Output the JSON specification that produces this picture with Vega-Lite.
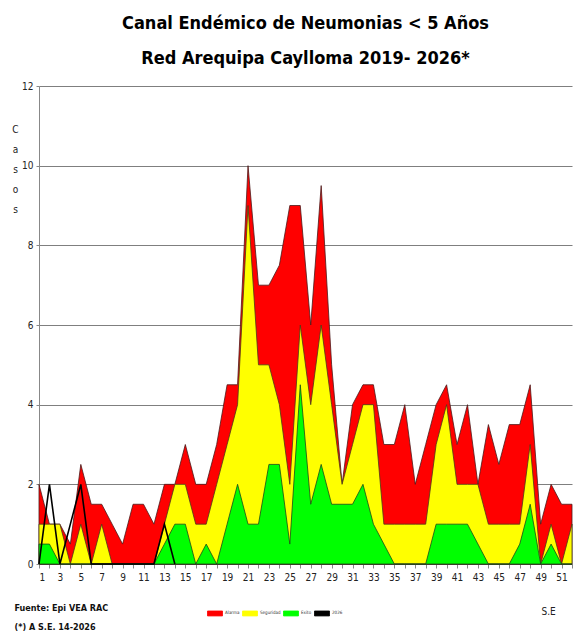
{
  "$schema": "https://vega.github.io/schema/vega-lite/v6.json",
  "width": 533,
  "height": 478,
  "autosize": {"type": "none"},
  "padding": {"left": 39, "top": 86, "right": 1, "bottom": 71},
  "background": "white",
  "config": {
    "font": "DejaVu Sans Condensed, Liberation Sans, sans-serif",
    "view": {"stroke": null}
  },
  "title": {
    "text": ["Canal Endémico de Neumonias < 5 Años", "Red Arequipa Caylloma 2019- 2026*"],
    "font": "DejaVu Sans Condensed, Liberation Sans, sans-serif",
    "fontSize": 18,
    "fontWeight": "bold",
    "color": "#000000",
    "lineHeight": 35,
    "anchor": "middle",
    "offset": 13
  },
  "data": {
    "values": [
      {"w": 1, "Alarma": 2, "Seguridad": 1, "Exito": 0.5, "Casos2026": 0},
      {"w": 2, "Alarma": 1, "Seguridad": 1, "Exito": 0.5, "Casos2026": 2},
      {"w": 3, "Alarma": 1, "Seguridad": 1, "Exito": 0, "Casos2026": 0},
      {"w": 4, "Alarma": 0.5, "Seguridad": 0, "Exito": 0, "Casos2026": 1},
      {"w": 5, "Alarma": 2.5, "Seguridad": 1, "Exito": 0, "Casos2026": 2},
      {"w": 6, "Alarma": 1.5, "Seguridad": 0, "Exito": 0, "Casos2026": 0},
      {"w": 7, "Alarma": 1.5, "Seguridad": 1, "Exito": 0, "Casos2026": 0},
      {"w": 8, "Alarma": 1, "Seguridad": 0, "Exito": 0, "Casos2026": 0},
      {"w": 9, "Alarma": 0.5, "Seguridad": 0, "Exito": 0, "Casos2026": 0},
      {"w": 10, "Alarma": 1.5, "Seguridad": 0, "Exito": 0, "Casos2026": 0},
      {"w": 11, "Alarma": 1.5, "Seguridad": 0, "Exito": 0, "Casos2026": 0},
      {"w": 12, "Alarma": 1, "Seguridad": 0, "Exito": 0, "Casos2026": 0},
      {"w": 13, "Alarma": 2, "Seguridad": 1, "Exito": 0.5, "Casos2026": 1},
      {"w": 14, "Alarma": 2, "Seguridad": 2, "Exito": 1, "Casos2026": 0},
      {"w": 15, "Alarma": 3, "Seguridad": 2, "Exito": 1},
      {"w": 16, "Alarma": 2, "Seguridad": 1, "Exito": 0},
      {"w": 17, "Alarma": 2, "Seguridad": 1, "Exito": 0.5},
      {"w": 18, "Alarma": 3, "Seguridad": 2, "Exito": 0},
      {"w": 19, "Alarma": 4.5, "Seguridad": 3, "Exito": 1},
      {"w": 20, "Alarma": 4.5, "Seguridad": 4, "Exito": 2},
      {"w": 21, "Alarma": 10, "Seguridad": 9, "Exito": 1},
      {"w": 22, "Alarma": 7, "Seguridad": 5, "Exito": 1},
      {"w": 23, "Alarma": 7, "Seguridad": 5, "Exito": 2.5},
      {"w": 24, "Alarma": 7.5, "Seguridad": 4, "Exito": 2.5},
      {"w": 25, "Alarma": 9, "Seguridad": 2, "Exito": 0.5},
      {"w": 26, "Alarma": 9, "Seguridad": 6, "Exito": 4.5},
      {"w": 27, "Alarma": 6, "Seguridad": 4, "Exito": 1.5},
      {"w": 28, "Alarma": 9.5, "Seguridad": 6, "Exito": 2.5},
      {"w": 29, "Alarma": 5, "Seguridad": 4, "Exito": 1.5},
      {"w": 30, "Alarma": 2, "Seguridad": 2, "Exito": 1.5},
      {"w": 31, "Alarma": 4, "Seguridad": 3, "Exito": 1.5},
      {"w": 32, "Alarma": 4.5, "Seguridad": 4, "Exito": 2},
      {"w": 33, "Alarma": 4.5, "Seguridad": 4, "Exito": 1},
      {"w": 34, "Alarma": 3, "Seguridad": 1, "Exito": 0.5},
      {"w": 35, "Alarma": 3, "Seguridad": 1, "Exito": 0},
      {"w": 36, "Alarma": 4, "Seguridad": 1, "Exito": 0},
      {"w": 37, "Alarma": 2, "Seguridad": 1, "Exito": 0},
      {"w": 38, "Alarma": 3, "Seguridad": 1, "Exito": 0},
      {"w": 39, "Alarma": 4, "Seguridad": 3, "Exito": 1},
      {"w": 40, "Alarma": 4.5, "Seguridad": 4, "Exito": 1},
      {"w": 41, "Alarma": 3, "Seguridad": 2, "Exito": 1},
      {"w": 42, "Alarma": 4, "Seguridad": 2, "Exito": 1},
      {"w": 43, "Alarma": 2, "Seguridad": 2, "Exito": 0.5},
      {"w": 44, "Alarma": 3.5, "Seguridad": 1, "Exito": 0},
      {"w": 45, "Alarma": 2.5, "Seguridad": 1, "Exito": 0},
      {"w": 46, "Alarma": 3.5, "Seguridad": 1, "Exito": 0},
      {"w": 47, "Alarma": 3.5, "Seguridad": 1, "Exito": 0.5},
      {"w": 48, "Alarma": 4.5, "Seguridad": 3, "Exito": 1.5},
      {"w": 49, "Alarma": 1, "Seguridad": 0, "Exito": 0},
      {"w": 50, "Alarma": 2, "Seguridad": 1, "Exito": 0.5},
      {"w": 51, "Alarma": 1.5, "Seguridad": 0, "Exito": 0},
      {"w": 52, "Alarma": 1.5, "Seguridad": 1, "Exito": 0}
    ]
  },
  "encoding": {
    "y": {
      "type": "quantitative",
      "scale": {"domain": [0, 12], "nice": false},
      "axis": {
        "values": [0, 2, 4, 6, 8, 10, 12],
        "grid": true,
        "gridColor": "#7f7f7f",
        "gridWidth": 1,
        "domainColor": "#888888",
        "tickColor": "#888888",
        "tickSize": 3,
        "labelFont": "DejaVu Sans Condensed, Liberation Sans, sans-serif",
        "labelFontSize": 10,
        "labelColor": "#222222",
        "labelPadding": 3,
        "title": ["C", "a", "s", "o", "s"],
        "titleAngle": 0,
        "titleFont": "DejaVu Sans Condensed, Liberation Sans, sans-serif",
        "titleFontSize": 10,
        "titleFontWeight": "normal",
        "titleColor": "#222222",
        "titleLineHeight": 20,
        "titleBaseline": "top",
        "titleAlign": "center",
        "titleX": -24,
        "titleY": 38
      }
    },
    "color": {
      "type": "nominal",
      "scale": {
        "domain": ["Alarma", "Seguridad", "Exito", "2026"],
        "range": ["#ff0000", "#ffff00", "#00ff00", "#000000"]
      },
      "legend": {
        "orient": "none",
        "direction": "horizontal",
        "columns": 4,
        "legendX": 168,
        "legendY": 519,
        "title": null,
        "symbolType": "M-1,-0.33H1V0.33H-1Z",
        "symbolSize": 225,
        "symbolStrokeColor": "#333333",
        "symbolStrokeWidth": 0.8,
        "symbolOpacity": 1,
        "labelFontSize": 4.5,
        "labelColor": "#333333",
        "labelOffset": 2,
        "columnPadding": 0
      }
    }
  },
  "layer": [
    {
      "encoding": {
        "x": {
          "field": "w",
          "type": "quantitative",
          "scale": {"domain": [1, 52], "nice": false, "zero": false},
          "axis": {
            "values": [1,2,3,4,5,6,7,8,9,10,11,12,13,14,15,16,17,18,19,20,21,22,23,24,25,26,27,28,29,30,31,32,33,34,35,36,37,38,39,40,41,42,43,44,45,46,47,48,49,50,51,52],
            "labelExpr": "datum.value % 2 == 1 ? datum.label : ''",
            "labelFont": "DejaVu Sans Condensed, Liberation Sans, sans-serif",
            "labelFontSize": 10,
            "labelColor": "#222222",
            "labelPadding": 4,
            "tickSize": 4,
            "tickColor": "#888888",
            "domainColor": "#555555",
            "grid": false,
            "title": "S.E",
            "titleFont": "DejaVu Sans Condensed, Liberation Sans, sans-serif",
            "titleFontSize": 10,
            "titleFontWeight": "normal",
            "titleColor": "#222222",
            "titleX": 502,
            "titleY": 42,
            "titleAnchor": "start",
            "titleAlign": "left",
            "titleBaseline": "top"
          }
        }
      },
      "layer": [
        {
          "mark": {"type": "area", "stroke": "#4a1a1a", "strokeWidth": 0.8, "opacity": 1},
          "encoding": {
            "y": {"field": "Alarma"},
            "color": {"datum": "Alarma"}
          }
        },
        {
          "mark": {"type": "area", "stroke": "#4a3a1a", "strokeWidth": 0.8, "opacity": 1},
          "encoding": {
            "y": {"field": "Seguridad"},
            "color": {"datum": "Seguridad"}
          }
        },
        {
          "mark": {"type": "area", "stroke": "#1a4a1a", "strokeWidth": 0.8, "opacity": 1},
          "encoding": {
            "y": {"field": "Exito"},
            "color": {"datum": "Exito"}
          }
        }
      ]
    },
    {
      "transform": [{"filter": "isValid(datum.Casos2026)"}],
      "mark": {"type": "line", "strokeWidth": 1.6},
      "encoding": {
        "x": {
          "field": "w",
          "type": "quantitative",
          "scale": {"domain": [1, 52], "nice": false, "zero": false},
          "axis": {
            "orient": "bottom",
            "labels": false,
            "ticks": false,
            "domain": false,
            "grid": false,
            "title": ["Fuente: Epi VEA RAC", "(*) A S.E. 14-2026"],
            "titleFont": "DejaVu Sans Condensed, Liberation Sans, sans-serif",
            "titleFontSize": 9,
            "titleFontWeight": "bold",
            "titleColor": "#111111",
            "titleLineHeight": 19,
            "titleX": -25,
            "titleY": 39,
            "titleAnchor": "start",
            "titleAlign": "left",
            "titleBaseline": "top"
          }
        },
        "y": {"field": "Casos2026"},
        "color": {"datum": "2026"}
      }
    }
  ],
  "resolve": {"scale": {"color": "shared", "x": "independent"}, "axis": {"x": "independent"}}
}
